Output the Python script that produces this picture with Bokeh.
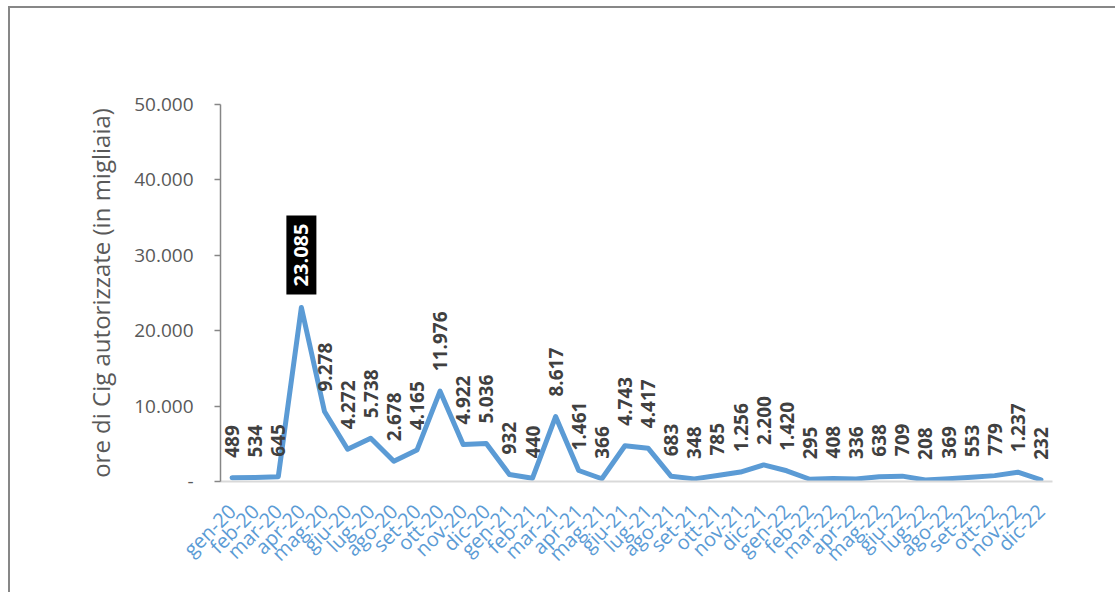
import math
from bokeh.plotting import figure
from bokeh.models import ColumnDataSource, FactorRange, Range1d, FixedTicker, CustomJSTickFormatter
from bokeh.core.properties import value
from bokeh.embed import file_html
from bokeh.resources import INLINE

months = ["gen-20", "feb-20", "mar-20", "apr-20", "mag-20", "giu-20", "lug-20", "ago-20", "set-20",
          "ott-20", "nov-20", "dic-20", "gen-21", "feb-21", "mar-21", "apr-21", "mag-21", "giu-21",
          "lug-21", "ago-21", "set-21", "ott-21", "nov-21", "dic-21", "gen-22", "feb-22", "mar-22",
          "apr-22", "mag-22", "giu-22", "lug-22", "ago-22", "set-22", "ott-22", "nov-22", "dic-22"]
ore_cig = [489, 534, 645, 23085, 9278, 4272, 5738, 2678, 4165,
           11976, 4922, 5036, 932, 440, 8617, 1461, 366, 4743,
           4417, 683, 348, 785, 1256, 2200, 1420, 295, 408,
           336, 638, 709, 208, 369, 553, 779, 1237, 232]
y_ticks = [0, 10000, 20000, 30000, 40000, 50000]
highlight = "apr-20"

def fmt(v):
    return f"{v:,}".replace(",", ".")

labels = [fmt(v) for v in ore_cig]
normal_idx = [i for i, m in enumerate(months) if m != highlight]
hi_idx = [i for i, m in enumerate(months) if m == highlight]

src = ColumnDataSource(dict(x=months, y=ore_cig, lab=labels))
src_n = ColumnDataSource(dict(x=[months[i] for i in normal_idx], y=[ore_cig[i] for i in normal_idx],
                              lab=[labels[i] for i in normal_idx]))
src_h = ColumnDataSource(dict(x=[months[i] for i in hi_idx], y=[ore_cig[i] for i in hi_idx],
                              lab=[labels[i] for i in hi_idx]))

p = figure(width=1107, height=586, x_range=FactorRange(*months, range_padding=0),
           y_range=Range1d(0, 50000), output_backend="svg", toolbar_location=None,
           min_border_left=210, min_border_top=96, min_border_right=65, min_border_bottom=113)
p.styles = {"border-left": "2px solid #878787", "border-top": "2px solid #878787",
            "margin-left": "8px", "margin-top": "6px"}
p.outline_line_color = None
p.xgrid.grid_line_color = None
p.ygrid.grid_line_color = None
p.background_fill_color = "white"
p.border_fill_color = "white"

p.line("x", "y", source=src, line_color="#5B9BD5", line_width=5, line_join="round", line_cap="round")

p.text("x", "y", text="lab", source=src_n, angle=math.pi / 2, text_align="left", text_baseline="middle",
       y_offset=-20, text_font=value("Open Sans"), text_font_style="bold", text_font_size="19px",
       text_color="#404040")
p.text("x", "y", text="lab", source=src_h, angle=math.pi / 2, text_align="left", text_baseline="middle",
       y_offset=-13, text_font=value("Open Sans"), text_font_style="bold", text_font_size="20px",
       text_color="white", background_fill_color="black", padding=8)

# y axis
ya = p.yaxis[0]
ya.ticker = FixedTicker(ticks=y_ticks)
ya.formatter = CustomJSTickFormatter(code="""
if (tick == 0) { return '-'; }
return (tick/1000).toFixed(0) + '.000';
""")
ya.axis_label = "ore di Cig autorizzate (in migliaia)"
ya.axis_label_text_font = "Open Sans"
ya.axis_label_text_font_size = "24px"
ya.axis_label_text_font_style = "normal"
ya.axis_label_text_color = "#595959"
ya.axis_label_standoff = 14
ya.major_label_text_font = "Open Sans"
ya.major_label_text_font_size = "19px"
ya.major_label_text_color = "#595959"
ya.major_label_standoff = 21
ya.axis_line_color = "#868686"
ya.axis_line_width = 1.5
ya.major_tick_line_color = "#868686"
ya.major_tick_line_width = 1.5
ya.major_tick_out = 6
ya.major_tick_in = 0
ya.minor_tick_line_color = None

# x axis
xa = p.xaxis[0]
xa.axis_line_color = "#D9D9D9"
xa.axis_line_width = 2
xa.major_tick_line_color = None
xa.minor_tick_line_color = None
xa.major_label_orientation = math.pi / 4
xa.major_label_text_font = "Open Sans"
xa.major_label_text_font_size = "20px"
xa.major_label_text_color = "#5B9BD5"
xa.major_label_standoff = 20

open("out.html", "w").write(file_html(p, INLINE))
